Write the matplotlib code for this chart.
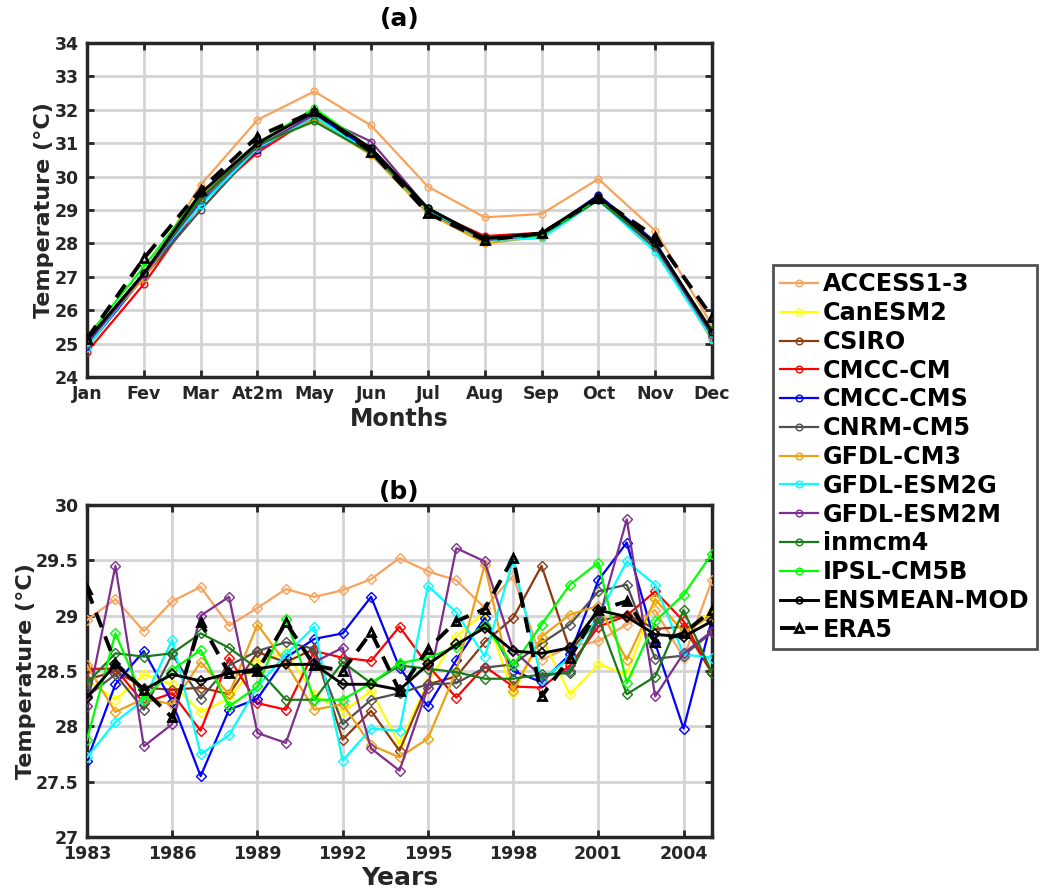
import matplotlib
matplotlib.use("Agg")
import matplotlib.pyplot as plt
from matplotlib.ticker import FuncFormatter

months = ["Jan", "Fev", "Mar", "At2m", "May", "Jun", "Jul", "Aug", "Sep", "Oct", "Nov", "Dec"]
years = list(range(1983, 2006))

names = ["ACCESS1-3", "CanESM2", "CSIRO", "CMCC-CM", "CMCC-CMS", "CNRM-CM5", "GFDL-CM3",
         "GFDL-ESM2G", "GFDL-ESM2M", "inmcm4", "IPSL-CM5B", "ENSMEAN-MOD", "ERA5"]
colors = ["#F7A35C", "#FFFF00", "#8B3A12", "#FF0000", "#0000FF", "#505050", "#EDA117",
          "#00FFFF", "#7E2F8E", "#1A7A1A", "#00FF00", "#000000", "#000000"]

# Panel (a): monthly climatology
access_m = [25.15, 27.0, 29.75, 31.7, 32.55, 31.53, 29.7, 28.78, 28.88, 29.93, 28.38, 25.55]
canesm_m = [25.05, 27.0, 29.3, 30.9, 31.75, 30.7, 28.95, 28.05, 28.2, 29.3, 27.85, 25.15]
csiro_m = [25.1, 27.05, 29.35, 30.9, 31.8, 30.75, 29.0, 28.15, 28.25, 29.35, 27.95, 25.3]
cmcccm_m = [24.75, 26.78, 29.2, 30.72, 31.8, 30.8, 29.0, 28.22, 28.32, 29.4, 28.0, 25.2]
cmcccms_m = [24.9, 27.0, 29.2, 30.8, 31.9, 30.75, 29.0, 28.15, 28.25, 29.45, 28.05, 25.3]
cnrm_m = [25.0, 27.0, 29.0, 30.85, 31.8, 30.7, 28.95, 28.1, 28.2, 29.3, 27.85, 25.2]
gfdlcm3_m = [25.1, 26.95, 29.4, 30.9, 31.7, 30.65, 28.9, 28.0, 28.2, 29.3, 27.9, 25.1]
esm2g_m = [24.88, 27.1, 29.15, 30.85, 31.8, 30.7, 29.0, 28.1, 28.15, 29.3, 27.75, 25.15]
esm2m_m = [25.0, 27.05, 29.3, 30.9, 31.85, 31.05, 29.05, 28.1, 28.25, 29.3, 27.9, 25.25]
inmcm4_m = [25.1, 27.1, 29.35, 30.95, 31.65, 30.7, 29.05, 28.15, 28.25, 29.3, 27.95, 25.4]
ipsl_m = [25.2, 27.3, 29.5, 31.0, 32.05, 30.85, 29.05, 28.15, 28.25, 29.35, 28.0, 25.35]
ensmean_m = [25.1, 27.1, 29.5, 31.0, 31.95, 30.85, 29.05, 28.15, 28.3, 29.4, 28.0, 25.35]
era5_m = [25.15, 27.55, 29.6, 31.2, 31.95, 30.75, 28.9, 28.1, 28.3, 29.35, 28.2, 25.8]

# Panel (b): annual series 1983-2005
access_y = [28.96, 29.15, 28.86, 29.13, 29.26, 28.91, 29.07, 29.24, 29.17, 29.23, 29.33, 29.52,
            29.4, 29.32, 29.07, 29.36, 28.6, 28.72, 28.77, 28.92, 29.05, 28.62, 29.32]
canesm_y = [28.42, 28.24, 28.47, 28.38, 28.13, 28.25, 28.58, 28.67, 28.29, 28.13, 28.32, 27.84,
            28.4, 28.81, 29.03, 28.3, 28.8, 28.29, 28.56, 28.47, 29.15, 28.85, 29.04]
csiro_y = [28.42, 28.5, 28.35, 28.33, 28.35, 28.29, 28.67, 28.58, 28.7, 27.88, 28.14, 27.78,
           28.38, 28.45, 28.76, 28.98, 29.45, 28.69, 28.95, 29.01, 28.88, 28.9, 28.48]
cmcccm_y = [28.52, 28.52, 28.21, 28.3, 27.96, 28.62, 28.21, 28.15, 28.68, 28.62, 28.59, 28.9,
            28.55, 28.26, 28.54, 28.36, 28.35, 28.55, 28.9, 29.0, 29.22, 28.95, 28.48]
cmcccms_y = [27.69, 28.38, 28.68, 28.22, 27.55, 28.15, 28.25, 28.62, 28.79, 28.84, 29.17, 28.53,
             28.18, 28.6, 28.98, 28.5, 28.4, 28.65, 29.32, 29.66, 28.75, 27.98, 28.97]
cnrm_y = [28.27, 28.47, 28.15, 28.65, 28.25, 28.55, 28.68, 28.76, 28.7, 28.02, 28.24, 28.3,
          28.38, 28.39, 28.53, 28.56, 28.75, 28.92, 29.22, 29.28, 28.61, 28.64, 28.85]
gfdlcm3_y = [28.55, 28.13, 28.25, 28.2, 28.58, 28.29, 28.92, 28.57, 28.15, 28.2, 27.83, 27.72,
             27.89, 28.5, 29.46, 28.32, 28.81, 29.01, 29.09, 28.6, 29.15, 28.85, 29.0]
esm2g_y = [27.72, 28.04, 28.24, 28.78, 27.75, 27.92, 28.36, 28.65, 28.9, 27.69, 27.98, 27.96,
           29.27, 29.03, 28.63, 29.5, 28.42, 28.62, 29.0, 29.49, 29.28, 28.65, 28.62]
esm2m_y = [28.18, 29.45, 27.82, 28.02, 29.0, 29.17, 27.94, 27.85, 28.58, 28.71, 27.8, 27.6,
           28.35, 29.61, 29.49, 28.69, 28.45, 28.5, 28.95, 29.87, 28.27, 28.66, 28.86]
inmcm4_y = [28.39, 28.66, 28.63, 28.66, 28.84, 28.71, 28.52, 28.24, 28.24, 28.58, 28.39, 28.55,
            28.52, 28.49, 28.43, 28.43, 28.47, 28.48, 28.98, 28.29, 28.45, 29.05, 28.48]
ipsl_y = [27.88, 28.84, 28.24, 28.51, 28.69, 28.18, 28.36, 28.97, 28.24, 28.24, 28.39, 28.57,
          28.62, 28.72, 28.92, 28.55, 28.92, 29.28, 29.48, 28.39, 28.95, 29.19, 29.56]
ensmean_y = [28.26, 28.56, 28.33, 28.47, 28.41, 28.48, 28.52, 28.56, 28.56, 28.38, 28.38, 28.33,
             28.56, 28.74, 28.89, 28.68, 28.66, 28.71, 29.05, 28.99, 28.83, 28.81, 28.95]
era5_y = [29.24, 28.57, 28.33, 28.08, 28.94, 28.48, 28.5, 28.94, 28.55, 28.5, 28.85, 28.32,
          28.7, 28.95, 29.06, 29.52, 28.27, 28.62, 29.05, 29.13, 28.76, 28.84, 29.05]

monthly = [access_m, canesm_m, csiro_m, cmcccm_m, cmcccms_m, cnrm_m, gfdlcm3_m,
           esm2g_m, esm2m_m, inmcm4_m, ipsl_m, ensmean_m, era5_m]
annual = [access_y, canesm_y, csiro_y, cmcccm_y, cmcccms_y, cnrm_y, gfdlcm3_y,
          esm2g_y, esm2m_y, inmcm4_y, ipsl_y, ensmean_y, era5_y]

TXT = "#262626"
plt.rcParams['font.family'] = ['DejaVu Sans']
plt.rcParams['font.weight'] = 'bold'

fig = plt.figure(figsize=(10.41, 8.93), dpi=100)
axa = fig.add_axes([87/1041, 1-377/893, 625/1041, 334/893])
axb = fig.add_axes([87/1041, 1-837/893, 625/1041, 332/893])


def style(ax):
    ax.grid(True, color="#d4d4d4", linewidth=2)
    ax.set_axisbelow(True)
    for s in ax.spines.values():
        s.set_linewidth(2.5)
        s.set_color(TXT)
    ax.tick_params(direction='in', top=True, right=True, length=5, width=2,
                   labelsize=12.5, colors=TXT)
    ax.tick_params(axis='x', pad=6)
    ax.tick_params(axis='y', pad=6)
    for lab in ax.get_xticklabels() + ax.get_yticklabels():
        lab.set_fontweight('bold')


def draw(ax, xs, series, marker):
    hs = []
    for name, col, vals in zip(names, colors, series):
        if name == "ERA5":
            h, = ax.plot(xs, vals, color=col, linestyle=(0, (4, 2.5)), linewidth=2.8,
                         marker='^', markersize=6, markerfacecolor='none',
                         markeredgewidth=2, label=name, zorder=5)
        elif name == "ENSMEAN-MOD":
            h, = ax.plot(xs, vals, color=col, linewidth=2.1, marker=marker, markersize=4.8,
                         markerfacecolor='none', markeredgewidth=1.2, label=name, zorder=4)
        else:
            h, = ax.plot(xs, vals, color=col, linewidth=1.6, marker=marker, markersize=4.8,
                         markerfacecolor='none', markeredgewidth=1.0, label=name, zorder=3)
        hs.append(h)
    return hs


xm = list(range(len(months)))
handles = draw(axa, xm, monthly, 'o')
axa.set_xlim(0, 11)
axa.set_ylim(24, 34)
axa.set_xticks(xm)
axa.set_xticklabels(months)
axa.set_yticks(range(24, 35))
style(axa)
axa.set_ylabel("Temperature (°C)", fontsize=16, fontweight='bold', color=TXT, labelpad=0)
axa.set_xlabel("Months", fontsize=17, fontweight='bold', color=TXT, labelpad=3)
axa.set_title("(a)", fontsize=18, fontweight='bold', color='black', pad=12)

draw(axb, years, annual, 'D')
axb.set_xlim(1983, 2005)
axb.set_ylim(27, 30)
axb.set_xticks(list(range(1983, 2005, 3)))
axb.set_yticks([27, 27.5, 28, 28.5, 29, 29.5, 30])
axb.yaxis.set_major_formatter(FuncFormatter(lambda v, p: f"{v:g}"))
style(axb)
axb.set_ylabel("Temperature (°C)", fontsize=16, fontweight='bold', color=TXT, labelpad=-0.5)
axb.set_xlabel("Years", fontsize=18, fontweight='bold', color=TXT, labelpad=2)
axb.set_title("(b)", fontsize=18, fontweight='bold', color='black', pad=4)

leg = fig.legend(handles=handles, loc='center left',
                 bbox_to_anchor=(773/1041, 1-457/893),
                 prop={'weight': 'bold', 'size': 17.2}, frameon=True, fancybox=False,
                 edgecolor=TXT, handlelength=1.6, handletextpad=0.2, labelspacing=0.2,
                 borderpad=0.3, borderaxespad=0, numpoints=1)
leg.get_frame().set_linewidth(2)

fig.savefig("out.png", dpi=100)
